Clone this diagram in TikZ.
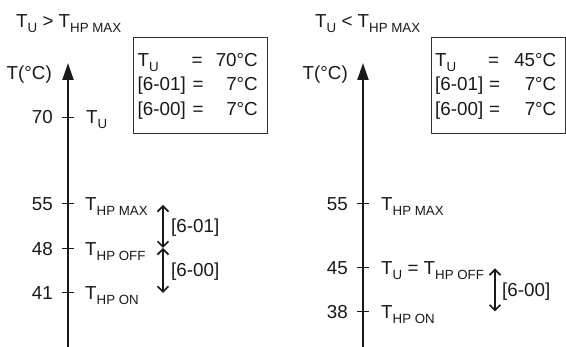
\documentclass[tikz,border=0pt]{standalone}
\usepackage{fontspec}
\setmainfont{Liberation Sans}
\usetikzlibrary{arrows.meta}
\newcommand{\lsub}[1]{\raisebox{-4.6pt}{\fontsize{13.3}{14}\selectfont #1}}
\begin{document}
\begin{tikzpicture}[x=1pt,y=-1pt,
  txt/.style={inner sep=0pt, font=\fontsize{18.8}{21}\selectfont, text=black!90},
  axisline/.style={line width=2pt, draw=black!90, -{Triangle[width=11pt,length=17pt]}},
  tickline/.style={line width=1pt, draw=black!90},
  dbl/.style={line width=1.7pt, draw=black!90, {Straight Barb[length=5.5pt,width=11pt]}-{Straight Barb[length=5.5pt,width=11pt]}},
  infobox/.style={draw=black!80, line width=1pt, inner sep=0pt, anchor=north west, minimum width=134pt, minimum height=96pt}]
\useasboundingbox (0,0) rectangle (566,347);
% ---------- left panel ----------
\node[txt, anchor=base west] (titleL) at (16,28) {T\lsub{U} > T\lsub{HP MAX}};
\node[txt, anchor=base east] (tcL) at (52,80) {T(°C)};
\coordinate (abL) at (68,347);
\coordinate (atL) at (68,63);
\draw[axisline] (abL) -- (atL);
\foreach \yy in {117.5,204,249,293} \draw[tickline] (62,\yy) -- (74,\yy);
\node[txt, anchor=east] (n70L) at (53,117.5) {70};
\node[txt, anchor=east] (n55L) at (53,204) {55};
\node[txt, anchor=east] (n48L) at (53,249) {48};
\node[txt, anchor=east] (n41L) at (53,293) {41};
\node[txt, anchor=base west] (l70L) at (86,124) {T\lsub{U}};
\node[txt, anchor=base west] (l55L) at (85,210.5) {T\lsub{HP MAX}};
\node[txt, anchor=base west] (l48L) at (85,255.5) {T\lsub{HP OFF}};
\node[txt, anchor=base west] (l41L) at (85,299.5) {T\lsub{HP ON}};
\coordinate (d1L) at (163,205);
\coordinate (d2L) at (163,248);
\coordinate (d3L) at (163,293);
\draw[dbl] (d1L) -- (d2L);
\draw[dbl] (d2L) -- (d3L);
\node[txt, anchor=base west] (p601L) at (171,232.5) {[6-01]};
\node[txt, anchor=base west] (p600L) at (171,277) {[6-00]};
\node[infobox] (boxL) at (133,37) {};
\node[txt, anchor=base west] (r1aL) at (137.5,67) {T\lsub{U}};
\node[txt, anchor=base] (r1bL) at (197,67) {=};
\node[txt, anchor=base east] (r1cL) at (258,67) {70°C};
\node[txt, anchor=base west] (r2aL) at (137.5,91) {[6-01]};
\node[txt, anchor=base] (r2bL) at (198,91) {=};
\node[txt, anchor=base east] (r2cL) at (258,91) {7°C};
\node[txt, anchor=base west] (r3aL) at (137.5,116) {[6-00]};
\node[txt, anchor=base] (r3bL) at (198,116) {=};
\node[txt, anchor=base east] (r3cL) at (258,116) {7°C};
% ---------- right panel ----------
\node[txt, anchor=base west] (titleR) at (315,28) {T\lsub{U} < T\lsub{HP MAX}};
\node[txt, anchor=base east] (tcR) at (348,80) {T(°C)};
\coordinate (abR) at (363,347);
\coordinate (atR) at (363,63);
\draw[axisline] (abR) -- (atR);
\foreach \yy in {204,268,312} \draw[tickline] (357,\yy) -- (369,\yy);
\node[txt, anchor=east] (n55R) at (348,204) {55};
\node[txt, anchor=east] (n45R) at (348,268) {45};
\node[txt, anchor=east] (n38R) at (348,312) {38};
\node[txt, anchor=base west] (l55R) at (381,210.5) {T\lsub{HP MAX}};
\node[txt, anchor=base west] (l45R) at (381,274.5) {T\lsub{U} = T\lsub{HP OFF}};
\node[txt, anchor=base west] (l38R) at (381,318.5) {T\lsub{HP ON}};
\coordinate (d1R) at (495,268.5);
\coordinate (d2R) at (495,311.5);
\draw[dbl] (d1R) -- (d2R);
\node[txt, anchor=base west] (p600R) at (502,296.5) {[6-00]};
\node[infobox] (boxR) at (431,37) {};
\node[txt, anchor=base west] (r1aR) at (435,67) {T\lsub{U}};
\node[txt, anchor=base] (r1bR) at (493.5,67) {=};
\node[txt, anchor=base east] (r1cR) at (556.5,67) {45°C};
\node[txt, anchor=base west] (r2aR) at (435,91) {[6-01]};
\node[txt, anchor=base] (r2bR) at (494.5,91) {=};
\node[txt, anchor=base east] (r2cR) at (556.5,91) {7°C};
\node[txt, anchor=base west] (r3aR) at (435,116) {[6-00]};
\node[txt, anchor=base] (r3bR) at (494.5,116) {=};
\node[txt, anchor=base east] (r3cR) at (556.5,116) {7°C};
\end{tikzpicture}
\end{document}
